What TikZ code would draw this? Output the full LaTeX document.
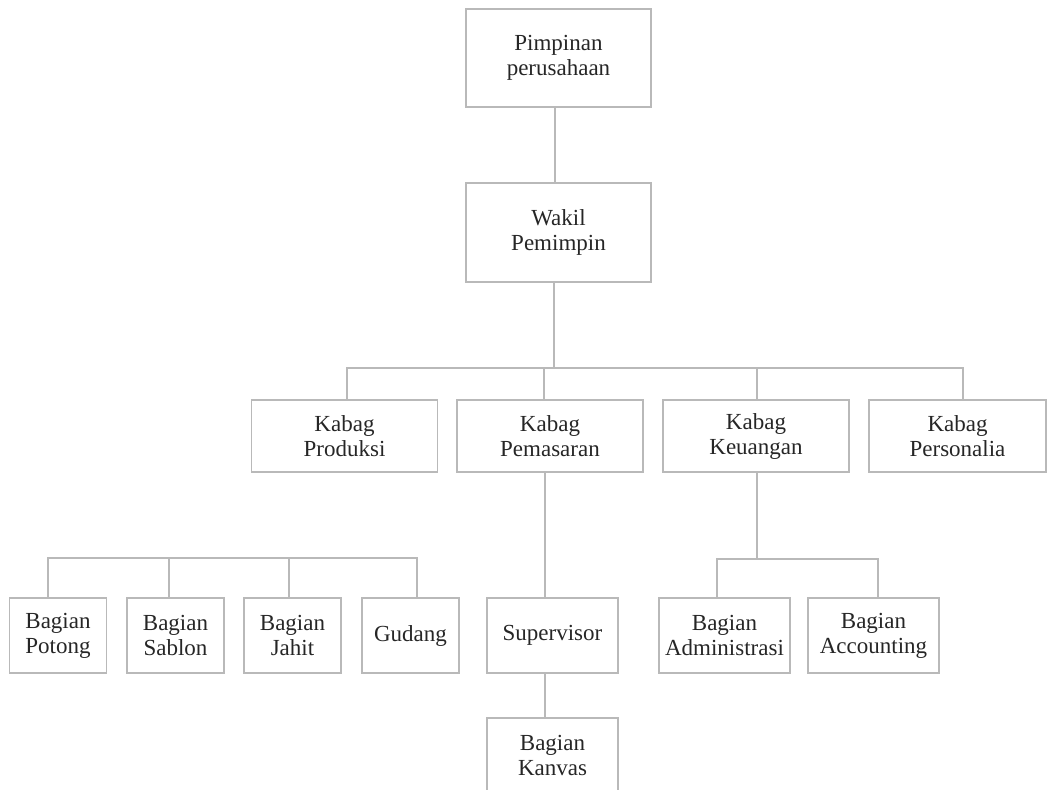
\documentclass[tikz,border=0pt]{standalone}
\usepackage{fontspec}
\setmainfont{Liberation Serif}
\tikzset{
  box/.style={draw=gray!55,line width=1.2pt,align=center,inner sep=0pt,text=black!85,
    font=\fontsize{23}{25}\selectfont},
  kabag/.style={box,minimum width=186pt,minimum height=72pt},
  bagian/.style={box,minimum width=97pt,minimum height=75pt},
  wide/.style={box,minimum width=131pt,minimum height=75pt},
  link/.style={draw=gray!55,line width=1.2pt}
}

\begin{document}
\begin{tikzpicture}[x=1pt,y=-1pt]
\useasboundingbox (0,0) rectangle (1048,789);
% top
\node[box,minimum width=185pt,minimum height=98pt] (pim) at (558.5,58) {Pimpinan\\perusahaan};
\node[box,minimum width=185pt,minimum height=99pt] (wak) at (558.5,232.5) {Wakil\\Pemimpin};
% kepala bagian
\node[kabag] (kPro) at (344.5,436) {Kabag\\Produksi};
\node[kabag] (kPem) at (550,436) {Kabag\\Pemasaran};
\node[kabag] (kKeu) at (756,436) {Kabag\\Keuangan};
\node[kabag,minimum width=177pt] (kPer) at (957.5,436) {Kabag\\Personalia};
% bagian
\node[bagian] (pot) at (58,635.5) {Bagian\\Potong};
\node[bagian] (sab) at (175.5,635.5) {Bagian\\Sablon};
\node[bagian] (jah) at (292.5,635.5) {Bagian\\Jahit};
\node[bagian] (gud) at (410.5,635.5) {Gudang};
\node[wide] (sup) at (552.5,635.5) {Supervisor};
\node[wide] (kan) at (552.5,755.5) {Bagian\\Kanvas};
\node[wide] (adm) at (724.5,635.5) {Bagian\\Administrasi};
\node[wide] (acc) at (873.5,635.5) {Bagian\\Accounting};
% junctions
\coordinate (pw) at (555,140);
\coordinate (b0) at (554,368);
\coordinate (b1) at (347,368);
\coordinate (b2) at (544,368);
\coordinate (b3) at (757,368);
\coordinate (b4) at (963,368);
\coordinate (p1) at (48,558);
\coordinate (p2) at (169,558);
\coordinate (p3) at (289,558);
\coordinate (p4) at (417,558);
\coordinate (sv) at (545,535);
\coordinate (q0) at (757,559);
\coordinate (q1) at (717,559);
\coordinate (q2) at (878,559);
% lines
\draw[link] (pim.south -| pw) -- (wak.north -| pw);
\draw[link] (wak.south -| b0) -- (b0);
\draw[link] (kPro.north -| b1) -- (b1) -- (b4) -- (kPer.north -| b4);
\draw[link] (kPem.north -| b2) -- (b2);
\draw[link] (kKeu.north -| b3) -- (b3);
\draw[link] (pot.north -| p1) -- (p1) -- (p4) -- (gud.north -| p4);
\draw[link] (sab.north -| p2) -- (p2);
\draw[link] (jah.north -| p3) -- (p3);
\draw[link] (kPem.south -| sv) -- (sup.north -| sv);
\draw[link] (sup.south -| sv) -- (kan.north -| sv);
\draw[link] (kKeu.south -| q0) -- (q0);
\draw[link] (adm.north -| q1) -- (q1) -- (q2) -- (acc.north -| q2);
\end{tikzpicture}
\end{document}
